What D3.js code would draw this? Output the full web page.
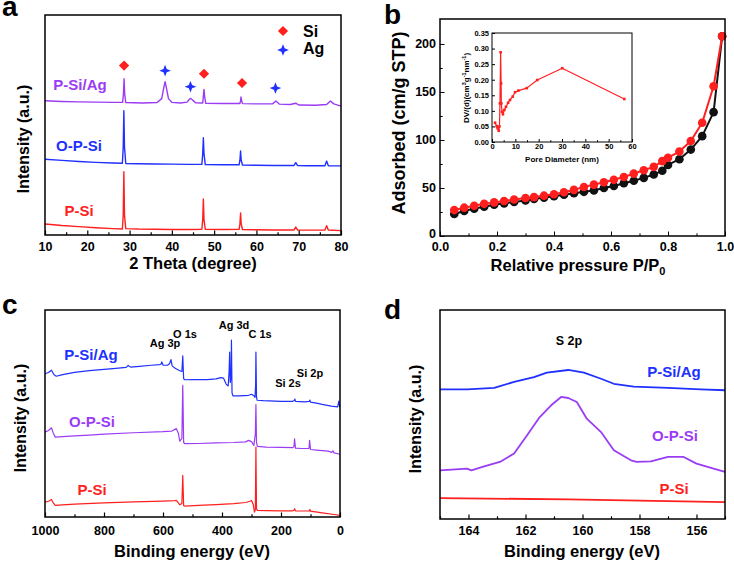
<!DOCTYPE html>
<html>
<head>
<meta charset="utf-8">
<script src="https://cdn.jsdelivr.net/npm/d3@7"></script>
<style>
  body { margin: 0; background: #fff; }
  svg text { font-family: "Liberation Sans", Arial, sans-serif; font-weight: bold; }
</style>
</head>
<body>
<svg width="734" height="564"></svg>
<script>
const red = "#ff1f1f", blue = "#2030ff", purple = "#9b3cf5";

// --- (a) XRD, intensity in a.u. (0 = bottom of frame, 100 = top)
const xrdPSi = [[10,5.0],[14,4.3],[18,3.8],[22,3.3],[26,2.9],[28.3,2.7],[28.5,9],[28.65,28.8],[28.8,9],[29.1,2.9],[32,2.7],[36,2.6],[40,2.5],[44,2.5],[47.1,2.6],[47.3,7],[47.45,16.4],[47.6,7],[47.9,2.6],[52,2.5],[55.9,2.6],[56.1,5],[56.25,10.0],[56.4,5],[56.7,2.5],[60,2.4],[64,2.3],[68.9,2.3],[69.3,3.6],[69.7,2.3],[72,2.2],[76.2,2.3],[76.6,4.2],[77.0,2.3],[80,2.0]];
const xrdOPSi = [[10,34.4],[14,33.9],[18,33.4],[22,33.0],[26,32.7],[28.3,32.6],[28.5,40],[28.65,56.5],[28.8,40],[29.1,32.5],[32,32.4],[36,32.3],[40,32.2],[44,32.1],[47.1,32.1],[47.3,37],[47.45,44.2],[47.6,37],[47.9,32.0],[52,31.9],[55.9,31.9],[56.1,34],[56.25,38.2],[56.4,34],[56.7,31.8],[60,31.7],[64,31.6],[68.9,31.6],[69.3,32.9],[69.7,31.6],[72,31.5],[76.2,31.5],[76.6,33.6],[77.0,31.5],[80,31.4]];
const xrdPSiAg = [[10,61.0],[14,60.7],[18,60.5],[22,60.4],[26,60.3],[28.35,60.3],[28.55,64],[28.7,71.0],[28.85,64],[29.1,60.2],[33,60.0],[36.5,60.2],[37.6,62],[38.1,67],[38.4,69.7],[38.7,67],[39.2,62],[40,60.3],[42,60.0],[43.6,60.4],[44.2,61.8],[44.5,62.1],[44.9,61.3],[45.6,60.1],[47.3,60.0],[47.45,63],[47.6,66.2],[47.75,63],[48,59.9],[52,59.8],[56.1,59.8],[56.25,61],[56.35,62.7],[56.5,61],[56.7,59.7],[60,59.6],[63.8,59.6],[64.6,60.9],[65.4,59.5],[68,59.3],[69.3,59.9],[70,59.1],[74,59.0],[76.6,59.3],[77.5,60.9],[78.3,59.6],[80,58.6]];
const siMarks = [[28.7,77.0],[47.6,73.3],[56.6,69.1]];
const agMarks = [[38.4,74.7],[44.4,67.4],[64.5,66.8]];
const xrdTicks = [10,20,30,40,50,60,70,80];
const xrdMinor = [15,25,35,45,55,65,75];

// --- (b) N2 isotherm
const relP = [0.05,0.085,0.12,0.155,0.19,0.225,0.26,0.3,0.33,0.365,0.4,0.435,0.47,0.505,0.54,0.575,0.61,0.645,0.68,0.715,0.75,0.78,0.8,0.84,0.88,0.92,0.96,0.99];
const adsBlack = [23,26,28.5,30.5,32.5,34,35.5,37,38.5,40,41.5,43,44.5,46,47.5,50,52,55,57.5,60.5,64,68,74,80,90,104,129,208];
const adsRed = [27,29.5,31.5,33.5,35,36.5,38,39.5,40.5,42,43.5,45.5,48,51,53.5,56,58.5,61.5,65,68.5,72,78,81.5,88,99,118,156,208];
const pTicks = [0,0.2,0.4,0.6,0.8,1.0];
const pMinor = [0.1,0.3,0.5,0.7,0.9];
const adsTicks = [0,50,100,150,200];
const adsMinor = [25,75,125,175];
// inset: pore size distribution
const poreD  = [1.3,2.0,2.4,2.9,3.2,3.4,3.7,3.9,4.0,4.3,4.7,5.3,6.0,6.9,7.7,8.9,9.9,11.3,14.9,19.4,30.1,56.7];
const poreDV = [0.062,0.051,0.044,0.036,0.05,0.124,0.288,0.188,0.124,0.097,0.089,0.103,0.113,0.126,0.135,0.146,0.160,0.165,0.173,0.199,0.237,0.138];
const poreTicks = [0,10,20,30,40,50,60];
const dvTicks = [0,0.05,0.10,0.15,0.20,0.25,0.30,0.35];

// --- (c) XPS survey, binding energy (eV) vs a.u.
const surveyPSiAg = [[1000,69.2],[988,69.8],[978,70.9],[970,68.8],[962,68.0],[940,68.8],[900,69.9],[850,70.7],[800,71.3],[760,71.8],[725,72.3],[718,73.2],[710,72.4],[680,72.8],[640,73.3],[612,73.6],[607,73.8],[604,74.9],[600,73.4],[585,73.3],[578,74.0],[573,76.0],[569,73.0],[560,72.0],[545,70.8],[536,70.3],[533,77.8],[530,66.8],[526,66.3],[500,66.4],[450,66.4],[420,66.7],[405,67.3],[395,67.1],[386,64.2],[379,63.3],[376,70],[374,79.7],[372,65],[369,68],[368,85.4],[366,60],[363,58.5],[340,58.5],[310,58.8],[300,59.3],[292,58.6],[288,57.8],[286,64],[285,79.7],[283,58],[281,56.4],[260,56.2],[200,55.9],[160,55.9],[155,56.3],[153,57.0],[151,55.9],[120,55.6],[104,55.9],[102,56.5],[100,55.5],[80,55.0],[60,54.4],[30,53.6],[8,53.2],[4,56.0],[1,53.1]];
const surveyOPSi = [[1000,41.0],[988,41.8],[978,43.1],[972,40.5],[965,38.6],[940,38.8],[900,39.2],[850,39.6],[800,40.0],[700,40.7],[600,41.2],[570,41.5],[555,42.7],[548,40.5],[543,36.6],[536,38],[533,63.6],[530,36.0],[526,35.4],[480,35.5],[420,35.8],[360,36.0],[320,36.3],[310,37.0],[300,36.4],[292,34.6],[287,40],[285,54.3],[283,36],[280,34.1],[250,33.8],[200,33.6],[160,33.5],[156,34],[154,37.8],[151,33.3],[130,33.1],[105,33.2],[103,37.0],[100,32.6],[80,32.3],[40,31.8],[28,31.2],[24,32.0],[20,31.0],[0,30.3]];
const surveyPSi = [[1000,7.2],[988,7.6],[978,8.5],[972,6.8],[965,5.6],[940,5.9],[900,6.2],[800,6.8],[700,7.3],[600,7.7],[560,7.9],[555,8.0],[548,6.8],[543,5.9],[536,6.5],[533,20.1],[530,5.5],[526,5.3],[480,5.6],[420,6.0],[360,6.5],[320,7.0],[305,7.6],[300,8.0],[294,6.0],[290,2.4],[287,3.5],[285,33.8],[283,4],[280,3.2],[250,3.1],[200,3.0],[160,3.0],[156,3.2],[154,4.0],[151,3.0],[120,2.9],[104,2.9],[102,3.7],[100,2.8],[60,2.0],[20,1.2],[0,0.8]];
const beTicks = [1000,800,600,400,200,0];
const beMinor = [900,700,500,300,100];

// --- (d) S 2p
const s2pPSiAg = [[165,62.0],[164.05,62.0],[163.1,62.7],[162.4,65.6],[161.7,67.9],[161.25,70.0],[160.5,71.3],[159.95,70.0],[159.35,67.1],[158.9,64.7],[158.2,63.3],[157.0,62.7],[155.85,62.0],[155,61.6]];
const s2pOPSi = [[165,23.3],[164.05,24.1],[163.9,23.3],[163.45,25.2],[162.9,27.3],[162.4,31.3],[161.95,40.0],[161.5,48.8],[161.1,54.4],[160.75,58.4],[160.5,57.9],[160.2,56.0],[159.85,48.0],[159.35,41.6],[158.9,32.9],[158.3,28.1],[158.1,27.3],[157.6,27.6],[157.0,29.7],[156.45,29.7],[156.0,26.5],[155.4,24.1],[155,22.5]];
const s2pPSi = [[165,10.0],[160.5,9.4],[155,8.1]];
const sTicks = [164,162,160,158,156];
const sMinor = [165,163,161,159,157,155];

const svg = d3.select("svg");
const FONT = "Liberation Sans, Arial, sans-serif";

// axis helpers, ticks pointing into the frame
function xAxis(g, x, yPos, major, minor, size, pad, fs, fmt) {
  g.append("g").attr("transform", `translate(0,${yPos})`)
    .call(d3.axisBottom(x).tickValues(minor).tickSize(-size * 0.6).tickFormat(""))
    .call(a => a.select(".domain").remove());
  const a = g.append("g").attr("transform", `translate(0,${yPos})`)
    .call(d3.axisBottom(x).tickValues(major).tickSize(-size).tickPadding(pad).tickFormat(fmt));
  a.select(".domain").remove();
  a.selectAll("text").attr("font-size", fs).attr("font-family", FONT).attr("fill", "#000");
  g.selectAll(".tick line").attr("stroke", "#000").attr("stroke-width", 1.2);
}
function yAxis(g, y, xPos, major, minor, size, pad, fs, fmt) {
  if (minor.length) {
    g.append("g").attr("transform", `translate(${xPos},0)`)
      .call(d3.axisLeft(y).tickValues(minor).tickSize(-size * 0.6).tickFormat(""))
      .call(a => a.select(".domain").remove());
  }
  const a = g.append("g").attr("transform", `translate(${xPos},0)`)
    .call(d3.axisLeft(y).tickValues(major).tickSize(-size).tickPadding(pad).tickFormat(fmt));
  a.select(".domain").remove();
  a.selectAll("text").attr("font-size", fs).attr("font-family", FONT).attr("fill", "#000");
  g.selectAll(".tick line").attr("stroke", "#000").attr("stroke-width", 1.2);
  return a;
}
function frame(g, x0, y0, x1, y1, w) {
  g.append("rect").attr("x", x0).attr("y", y0).attr("width", x1 - x0).attr("height", y1 - y0)
    .attr("fill", "none").attr("stroke", "#000").attr("stroke-width", w || 1.5);
}
function label(g, txt, x, y, size, color, anchor) {
  return g.append("text").attr("x", x).attr("y", y).attr("font-size", size)
    .attr("fill", color || "#000").attr("text-anchor", anchor || "middle").text(txt);
}
function yTitle(g, txt, x, y, size) {
  return g.append("text").attr("transform", `translate(${x},${y}) rotate(-90)`)
    .attr("font-size", size).attr("text-anchor", "middle").text(txt);
}
function curve(g, data, x, y, color, w) {
  g.append("path").datum(data)
    .attr("d", d3.line().x(d => x(d[0])).y(d => y(d[1])))
    .attr("fill", "none").attr("stroke", color).attr("stroke-width", w)
    .attr("stroke-linejoin", "round");
}
function star(r, ri) {
  const p = [];
  for (let i = 0; i < 8; i++) {
    const a = i * Math.PI / 4 - Math.PI / 2, rr = i % 2 ? ri : r;
    p.push([rr * Math.cos(a), rr * Math.sin(a)]);
  }
  return "M" + p.join("L") + "Z";
}
const diamond = d3.symbol(d3.symbolSquare, 52)();

// ================= panel a
{
  const g = svg.append("g");
  const x = d3.scaleLinear().domain([10, 80]).range([45, 341]);
  const y = d3.scaleLinear().domain([0, 100]).range([235, 15]);
  curve(g, xrdPSi, x, y, red, 1.4);
  curve(g, xrdOPSi, x, y, blue, 1.4);
  curve(g, xrdPSiAg, x, y, purple, 1.4);
  g.selectAll(".si").data(siMarks).join("path")
    .attr("d", diamond).attr("fill", red)
    .attr("transform", d => `translate(${x(d[0])},${y(d[1])}) rotate(45)`);
  g.selectAll(".ag").data(agMarks).join("path")
    .attr("d", star(5.8, 2.3)).attr("fill", blue)
    .attr("transform", d => `translate(${x(d[0])},${y(d[1])})`);
  // legend
  g.append("path").attr("d", diamond).attr("fill", red).attr("transform", "translate(283,31) rotate(45)");
  g.append("path").attr("d", star(5.8, 2.3)).attr("fill", blue).attr("transform", "translate(283,50)");
  label(g, "Si", 303, 37, 16, "#000", "start");
  label(g, "Ag", 303, 54, 16, "#000", "start");
  label(g, "P-Si/Ag", 80, 90, 15, purple);
  label(g, "O-P-Si", 79, 151, 15, blue);
  label(g, "P-Si", 79, 216, 15, red);
  frame(g, 45, 15, 341, 235);
  xAxis(g, x, 235, xrdTicks, xrdMinor, 4.5, 7, 12.5, d3.format("d"));
  label(g, "2 Theta (degree)", 193, 269, 16.5);
  yTitle(g, "Intensity (a.u.)", 29, 139, 16);
  label(g, "a", 2, 16, 28, "#000", "start");
}

// ================= panel b
{
  const g = svg.append("g");
  const x = d3.scaleLinear().domain([0, 1]).range([440, 725]);
  const y = d3.scaleLinear().domain([0, 226]).range([236, 19]);
  const black = relP.map((p, i) => [p, adsBlack[i]]);
  const redS = relP.map((p, i) => [p, adsRed[i]]);
  curve(g, black, x, y, "#111", 2);
  g.selectAll(".kb").data(black).join("circle")
    .attr("cx", d => x(d[0])).attr("cy", d => y(d[1])).attr("r", 4.3).attr("fill", "#111");
  curve(g, redS, x, y, red, 2);
  g.selectAll(".kr").data(redS).join("circle")
    .attr("cx", d => x(d[0])).attr("cy", d => y(d[1])).attr("r", 4.3).attr("fill", red);
  frame(g, 440, 19, 725, 236);
  xAxis(g, x, 236, pTicks, pMinor, 4.5, 6, 12.5, d3.format(".1f"));
  const ya = yAxis(g, y, 440, adsTicks, adsMinor, 4.5, 4, 12.5, d3.format("d"));
  ya.selectAll("text").filter(d => d === 0).attr("dy", "0.1em");
  const t = label(g, "Relative pressure P/P", 578, 271, 16.5);
  t.append("tspan").attr("dy", 4).attr("font-size", 11).text("0");
  yTitle(g, "Adsorbed (cm/g STP)", 405, 123, 18);
  label(g, "b", 384, 24, 28, "#000", "start");

  // inset
  const xi = d3.scaleLinear().domain([0, 60]).range([492, 632]);
  const yi = d3.scaleLinear().domain([0, 0.35]).range([142, 33]);
  const pts = poreD.map((d, i) => [d, poreDV[i]]);
  frame(g, 492, 33, 632, 142, 1);
  curve(g, pts, xi, yi, red, 1.2);
  g.selectAll(".ps").data(pts).join("rect")
    .attr("x", d => xi(d[0]) - 1.3).attr("y", d => yi(d[1]) - 1.3)
    .attr("width", 2.6).attr("height", 2.6).attr("fill", red);
  xAxis(g, xi, 142, poreTicks, [5,15,25,35,45,55], 3, 2, 7.5, d3.format("d"));
  yAxis(g, yi, 492, dvTicks, [], 3, 3, 7.5, d3.format(".2f"));
  g.selectAll(".tick line").attr("stroke-width", 1);
  label(g, "Pore Diameter (nm)", 562, 162, 8);
  const yl = yTitle(g, "", 469, 88, 8);
  yl.append("tspan").text("DV/(d)(cm");
  yl.append("tspan").attr("dy", -3).attr("font-size", 5.5).text("3");
  yl.append("tspan").attr("dy", 3).text("g");
  yl.append("tspan").attr("dy", -3).attr("font-size", 5.5).text("-1");
  yl.append("tspan").attr("dy", 3).text("nm");
  yl.append("tspan").attr("dy", -3).attr("font-size", 5.5).text("-1");
  yl.append("tspan").attr("dy", 3).text(")");
}

// ================= panel c
{
  const g = svg.append("g");
  const x = d3.scaleLinear().domain([1000, 0]).range([45, 340]);
  const y = d3.scaleLinear().domain([0, 100]).range([517, 310]);
  curve(g, surveyPSi, x, y, red, 1.2);
  curve(g, surveyOPSi, x, y, purple, 1.2);
  curve(g, surveyPSiAg, x, y, blue, 1.2);
  label(g, "P-Si/Ag", 91, 360, 15, blue);
  label(g, "O-P-Si", 92, 427, 15, purple);
  label(g, "P-Si", 92, 495, 15, red);
  label(g, "Ag 3p", 165, 347, 11);
  label(g, "O 1s", 185, 338, 11);
  label(g, "Ag 3d", 234, 329, 11);
  label(g, "C 1s", 260, 338, 11);
  label(g, "Si 2s", 288, 387, 11);
  label(g, "Si 2p", 310, 377, 11);
  frame(g, 45, 310, 340, 517);
  xAxis(g, x, 517, beTicks, beMinor, 4.5, 9, 12.5, d3.format("d"));
  label(g, "Binding energy (eV)", 192, 557, 16.5);
  yTitle(g, "Intensity (a.u.)", 26, 418, 16);
  label(g, "c", 2, 314, 28, "#000", "start");
}

// ================= panel d
{
  const g = svg.append("g");
  const x = d3.scaleLinear().domain([165, 155]).range([440, 725]);
  const y = d3.scaleLinear().domain([0, 100]).range([519, 310]);
  curve(g, s2pPSi, x, y, red, 1.8);
  curve(g, s2pOPSi, x, y, purple, 1.8);
  curve(g, s2pPSiAg, x, y, blue, 1.8);
  label(g, "S 2p", 569, 345, 12.5);
  label(g, "P-Si/Ag", 674, 377, 15, blue);
  label(g, "O-P-Si", 675, 441, 15, purple);
  label(g, "P-Si", 674, 494, 15, red);
  frame(g, 440, 310, 725, 519);
  xAxis(g, x, 519, sTicks, sMinor, 4.5, 7, 12.5, d3.format("d"));
  label(g, "Binding energy (eV)", 582, 557, 16.5);
  yTitle(g, "Intensity (a.u.)", 421, 419, 16);
  label(g, "d", 384, 319, 28, "#000", "start");
}
</script>
</body>
</html>
